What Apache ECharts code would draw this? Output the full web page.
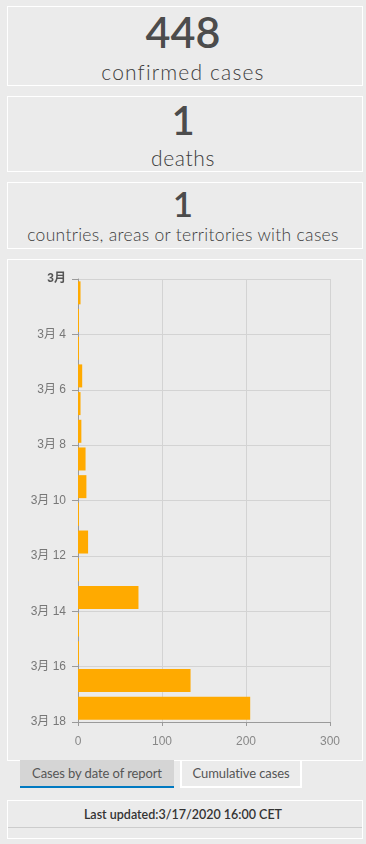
<!DOCTYPE html>
<html>
<head>
<meta charset="utf-8">
<script src="https://cdn.jsdelivr.net/npm/echarts@6/dist/echarts.min.js"></script>
<style>
  html, body { margin: 0; padding: 0; width: 366px; height: 844px; background: #ebebeb; overflow: hidden; }
  .panel { position: absolute; left: 7px; width: 354px; border: 1px solid #ffffff; box-sizing: content-box; }
  .t { position: absolute; left: 0; right: 0; text-align: center; white-space: nowrap; font-family: Lato, "Open Sans", sans-serif; color: #4c4c4c; line-height: 1; }
  .lbl { color: #3c3c3c; font-weight: 300; }
  #chart { position: absolute; left: 0; top: 0; width: 366px; height: 844px; z-index: 5; }
  .tab { position: absolute; box-sizing: border-box; font-family: Lato, "Open Sans", sans-serif; font-size: 13px; font-weight: 400; color: #555; text-align: center; line-height: 27px; white-space: nowrap; letter-spacing: -0.1px; }
</style>
</head>
<body>
<div class="panel" style="top:6px;height:78px;"></div>
<div class="t" id="n1" style="top:10px;font-size:43px;font-weight:600;"></div>
<div class="t lbl" id="l1" style="top:61px;font-size:21px;letter-spacing:1.15px;"></div>

<div class="panel" style="top:96px;height:74px;"></div>
<div class="t" id="n2" style="top:100px;font-size:40px;font-weight:600;"></div>
<div class="t lbl" id="l2" style="top:147px;font-size:21px;letter-spacing:0.6px;"></div>

<div class="panel" style="top:182px;height:65px;"></div>
<div class="t" id="n3" style="top:186px;font-size:35px;font-weight:600;"></div>
<div class="t lbl" id="l3" style="top:226px;font-size:17.5px;letter-spacing:0.3px;"></div>

<div class="panel" style="top:259px;height:500px;"></div>
<div class="tab" style="left:20px;top:760px;width:154px;height:28px;background:#d5d5d5;border-bottom:2px solid #0079c1;">Cases by date of report</div>
<div class="tab" style="left:180px;top:760px;width:122px;height:28px;border:2px solid #ffffff;border-top:none;">Cumulative cases</div>

<div class="panel" style="top:800px;height:37px;"></div>
<div style="position:absolute;left:8px;top:827px;width:354px;height:1px;background:#cccccc;"></div>
<div class="t" id="upd" style="top:809px;font-size:12.5px;font-weight:600;color:#333;"></div>

<div id="chart"></div>
<script>
// ---- data ----
var headlineValues = ['448', '1', '1'];
var headlineLabels = ['confirmed cases', 'deaths', 'countries, areas or territories with cases'];
var lastUpdated = 'Last updated:3/17/2020 16:00 CET';

var days = ['3月 2','3月 3','3月 4','3月 5','3月 6','3月 7','3月 8','3月 9','3月 10','3月 11','3月 12','3月 13','3月 14','3月 15','3月 16','3月 17'];
var cases = [3, 0, 0, 5, 3, 4, 9, 10, 0, 12, 0, 72, 0, 0, 134, 205];

var dateTickLabels = ['3月', '3月 4', '3月 6', '3月 8', '3月 10', '3月 12', '3月 14', '3月 16', '3月 18'];
var dateTickStart = 2, dateTickEnd = 18, dateTickStep = 2;
var xTicks = [0, 100, 200, 300];

document.getElementById('n1').textContent = headlineValues[0];
document.getElementById('n2').textContent = headlineValues[1];
document.getElementById('n3').textContent = headlineValues[2];
document.getElementById('l1').textContent = headlineLabels[0];
document.getElementById('l2').textContent = headlineLabels[1];
document.getElementById('l3').textContent = headlineLabels[2];
document.getElementById('upd').textContent = lastUpdated;

var chart = echarts.init(document.getElementById('chart'), null, { renderer: 'canvas' });
var font = '"Liberation Sans", Arial, "Noto Sans CJK SC", sans-serif';
chart.setOption({
  animation: false,
  backgroundColor: 'transparent',
  grid: { left: 78, right: 36, top: 279, bottom: 122, containLabel: false },
  xAxis: {
    type: 'value',
    min: xTicks[0], max: xTicks[xTicks.length - 1], interval: xTicks[1] - xTicks[0],
    axisLine: { show: true, lineStyle: { color: '#9a9a9a' } },
    axisTick: { show: true, length: 4, lineStyle: { color: '#9a9a9a' } },
    axisLabel: { color: '#888', fontSize: 12, fontFamily: font, margin: 14 },
    splitLine: { show: true, lineStyle: { color: '#d3d3d3' } }
  },
  yAxis: [
    {
      type: 'category',
      data: days,
      inverse: true,
      boundaryGap: true,
      show: false
    },
    {
      type: 'value',
      position: 'left',
      inverse: true,
      min: dateTickStart, max: dateTickEnd, interval: dateTickStep,
      axisLine: { show: true, lineStyle: { color: '#9a9a9a' } },
      axisTick: { show: true, length: 6, lineStyle: { color: '#9a9a9a' } },
      axisLabel: {
        color: '#777', fontSize: 12, fontFamily: font, margin: 12,
        formatter: function (v) {
          var i = Math.round((v - dateTickStart) / dateTickStep);
          var s = dateTickLabels[i] || '';
          return i === 0 ? '{m|' + s + '}' : s;
        },
        rich: { m: { color: '#555', fontWeight: 'bold', fontSize: 12, fontFamily: font } }
      },
      splitLine: { show: true, lineStyle: { color: '#d3d3d3' } }
    }
  ],
  series: [{
    type: 'bar',
    yAxisIndex: 0,
    data: cases,
    barWidth: 23,
    barMinHeight: 1,
    itemStyle: { color: '#ffaa00' },
    z: 3
  }]
});
</script>
</body>
</html>
